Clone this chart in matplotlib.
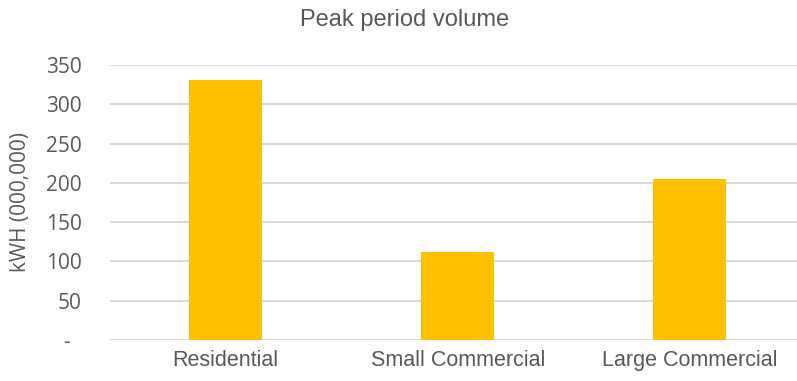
import matplotlib
matplotlib.use("Agg")
import matplotlib.pyplot as plt
from matplotlib.ticker import FixedLocator, FuncFormatter

categories = ["Residential", "Small Commercial", "Large Commercial"]
volumes = [331.5, 112.5, 204.5]
y_ticks = [0, 50, 100, 150, 200, 250, 300, 350]

TEXT = "#595959"
GRID = "#d9d9d9"
BAR = "#ffc000"

plt.rcParams["font.family"] = ["Liberation Sans", "DejaVu Sans"]

fig = plt.figure(figsize=(7.97, 3.81), dpi=100)
# plot area runs slightly past the right edge of the canvas
ax = fig.add_axes([109.5 / 797, 41 / 381, 696.5 / 797, 275 / 381])

x = range(len(categories))
ax.bar(x, volumes, width=0.315, color=BAR, zorder=3)

ax.set_xlim(-0.5, len(categories) - 0.5)
ax.set_ylim(0, 350)
ax.yaxis.set_major_locator(FixedLocator(y_ticks))
# accounting-style zero: a dash, set in from the right
ax.yaxis.set_major_formatter(FuncFormatter(lambda v, p: "-  " if v == 0 else f"{v:.0f}"))
ax.grid(axis="y", color=GRID, linewidth=1.5, zorder=0)
ax.set_axisbelow(True)

for s in ax.spines.values():
    s.set_visible(False)

ax.set_xticks(list(x))
ax.set_xticklabels(categories, fontsize=15.5, color=TEXT)
ax.tick_params(axis="x", length=0, pad=7)
ax.tick_params(axis="y", length=0, pad=20, labelcolor=TEXT)
for lbl in ax.get_yticklabels():
    lbl.set_fontfamily(["Open Sans", "DejaVu Sans"])
    lbl.set_fontsize(15)

ax.set_ylabel("kWH (000,000)", fontsize=15, color=TEXT,
              family=["Open Sans", "DejaVu Sans"])
ax.yaxis.set_label_coords(-78 / 696.5, 0.5)

fig.text(404.5 / 797, 1 - 20 / 381, "Peak period volume", ha="center", va="center",
         fontsize=17, color=TEXT)

fig.savefig("out.png", dpi=100)
